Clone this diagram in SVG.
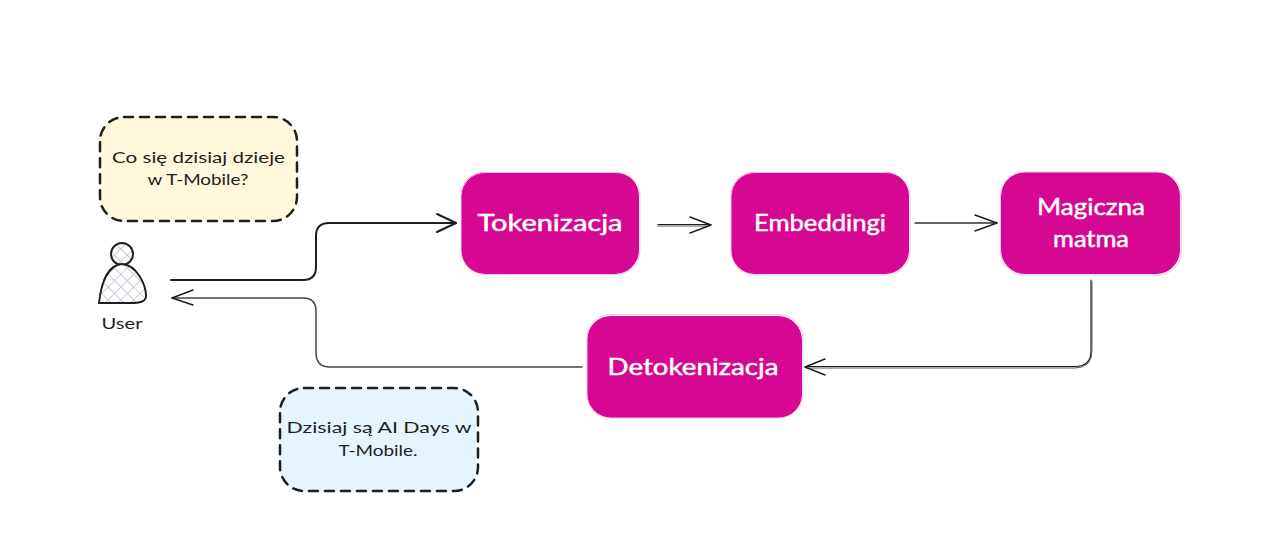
<svg xmlns="http://www.w3.org/2000/svg" width="1280" height="559" viewBox="0 0 1280 559">
<style>
text{font-family:"Lato","Noto Sans",sans-serif;text-anchor:middle}
.box{fill:#d60792}
.edge{fill:none;stroke:#f9c6e8;stroke-width:1}
.lbl{fill:#fff;stroke:#fff;stroke-width:.5;font-size:24px}
.note{stroke:#1e1e1e;stroke-width:2.5;stroke-dasharray:9 7;stroke-linecap:round}
.ntx{fill:#1e1e1e;font-size:16px}
.con{fill:none;stroke:#1e1e1e;stroke-width:1.4;stroke-linecap:round;stroke-linejoin:round}
.thin{stroke:#555;stroke-width:1}
</style>
<defs>
<pattern id="hatch" width="9" height="9" patternUnits="userSpaceOnUse" patternTransform="rotate(45)">
<rect width="9" height="9" fill="#fff"/>
<path d="M0 0H9M0 0V9" stroke="#c3cad6" stroke-width="1.8"/>
</pattern>
</defs>
<rect width="1280" height="559" fill="#fff"/>
<g id="connectors">
<path class="con" style="stroke-width:2" d="M171 280H303Q316 280 316 267V236Q316 223 329 223H456"/>
<path class="con" style="stroke-width:2" d="M437 214L456 223L437 232"/>
<path class="con thin" style="stroke-width:1.5;stroke:#444" d="M582 367H330Q316 367 316 353V311Q316 298 303 298H172"/>
<path class="con" d="M193 290L172 298L193 305"/>
<path class="con" style="stroke-width:1.2" d="M658 224.500H711"/>
<path class="con thin" d="M658 226H708"/>
<path class="con" d="M690 217L711 225L690 233"/>
<path class="con" style="stroke:#333" d="M915 223H997"/>
<path class="con" d="M975 215L997 223L975 231"/>
<path class="con" style="stroke-width:1.2" d="M1091 280V351Q1091 366.500 1075 366.500H805"/>
<path class="con thin" d="M1092 282V350Q1092 368 1075 368H806"/>
<path class="con" d="M825 359L805 367L825 375"/>
</g>
<g id="note-question">
<rect class="note" x="100" y="117" width="197" height="104" rx="24" fill="#fff8dc"/>
<text class="ntx" x="198.500" y="163" textLength="173" lengthAdjust="spacingAndGlyphs">Co się dzisiaj dzieje</text>
<text class="ntx" x="198" y="185" textLength="101" lengthAdjust="spacingAndGlyphs">w T-Mobile?</text>
</g>
<g id="user">
<circle cx="122" cy="254" r="11" fill="url(#hatch)" stroke="#1e1e1e" stroke-width="1.9"/>
<path d="M99 303C101 285 107 265 122 264C137 265 146 285 146 296C146 302 140 303 130 303Z" fill="url(#hatch)" stroke="#1e1e1e" stroke-width="1.9"/>
<text x="122" y="329" font-size="16" fill="#1e1e1e" textLength="41" lengthAdjust="spacingAndGlyphs">User</text>
</g>
<g id="tokenizacja">
<rect class="box" x="461" y="172" width="178" height="102" rx="24"/>
<rect class="edge" x="461" y="172.500" width="179" height="102" rx="24"/>
<text class="lbl" x="550" y="231" textLength="145" lengthAdjust="spacingAndGlyphs">Tokenizacja</text>
</g>
<g id="embeddingi">
<rect class="box" x="731" y="172" width="178" height="102" rx="24"/>
<rect class="edge" x="731" y="172.500" width="179" height="102.500" rx="24"/>
<text class="lbl" x="820" y="231" textLength="132" lengthAdjust="spacingAndGlyphs">Embeddingi</text>
</g>
<g id="magiczna-matma">
<rect class="box" x="1001" y="172" width="179" height="102" rx="24"/>
<rect class="edge" x="1000.500" y="172" width="181" height="103" rx="24"/>
<text class="lbl" x="1091" y="215" textLength="108" lengthAdjust="spacingAndGlyphs">Magiczna</text>
<text class="lbl" x="1091" y="247" textLength="76" lengthAdjust="spacingAndGlyphs">matma</text>
</g>
<g id="detokenizacja">
<rect class="box" x="587" y="316" width="215" height="102" rx="24"/>
<rect class="edge" x="587" y="314.500" width="216" height="103.500" rx="24"/>
<text class="lbl" x="693" y="375" textLength="171" lengthAdjust="spacingAndGlyphs">Detokenizacja</text>
</g>
<g id="note-answer">
<rect class="note" x="280" y="388" width="198" height="103" rx="24" fill="#e6f4ff"/>
<text class="ntx" x="379" y="433" textLength="185" lengthAdjust="spacingAndGlyphs">Dzisiaj są AI Days w</text>
<text class="ntx" x="378" y="456" textLength="79" lengthAdjust="spacingAndGlyphs">T-Mobile.</text>
</g>
</svg>
